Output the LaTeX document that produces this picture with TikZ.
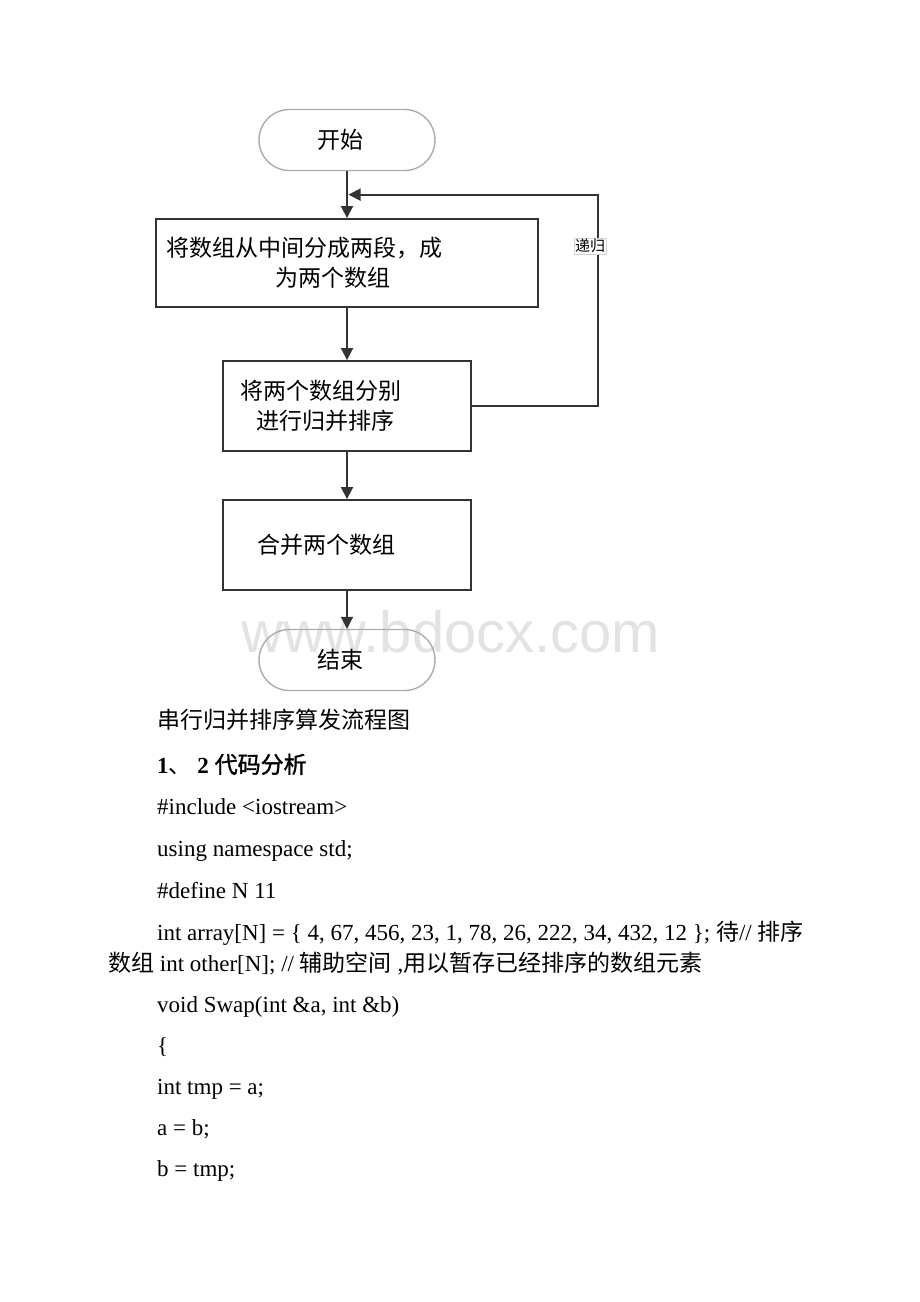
\documentclass[tikz,border=0pt]{standalone}
\usepackage{fontspec}
\setmainfont{Liberation Serif}
\newfontfamily\cjkfont{Noto Sans CJK SC}
\newfontfamily\cjkbold{Noto Sans CJK SC}[FakeBold=1.5]
\newfontfamily\markfont{Liberation Sans}
\newcommand{\zh}[1]{{\cjkfont #1}}
\usepackage{tikz}
\usetikzlibrary{arrows.meta, positioning, shapes.misc, calc}

\begin{document}
\begin{tikzpicture}[x=1pt, y=-1pt,
    every node/.style={font=\fontsize{23}{30}\selectfont},
    term/.style={draw=gray!65, line width=1.4pt, rounded rectangle, minimum width=176pt, minimum height=61pt, inner sep=0pt, font=\fontsize{23}{30}\selectfont\cjkfont},
    proc/.style={draw=black!80, line width=1.9pt, align=left, inner ysep=0pt, font=\fontsize{23}{30}\selectfont\cjkfont},
    flow/.style={-{Triangle[length=12pt, width=12pt]}, draw=black!80, line width=1.9pt},
    textline/.style={anchor=base west, inner sep=0pt}
]
\useasboundingbox (0,0) rectangle (920,1302);

% watermark
\node[textline, font=\fontsize{58}{58}\selectfont\markfont, text=gray!22] (mark) at (241,652) {www.bdocx.com};

% flowchart
\node[term] (start) at (347,140) {\hspace*{-14pt}开始};
\node[proc, minimum width=382pt, minimum height=88pt, text width=362pt, inner xsep=10pt] (split) at (347,263)
    {将数组从中间分成两段，成\\\hspace*{109pt}为两个数组};
\node[proc, minimum width=248pt, minimum height=90pt, text width=214pt, inner xsep=17pt] (sort) at (347,406)
    {将两个数组分别\\\hspace*{16pt}进行归并排序};
\node[proc, minimum width=248pt, minimum height=90pt, text width=214pt, inner xsep=17pt] (merge) at (347,545)
    {\hspace*{17pt}合并两个数组};
\node[term] (stop) at (347,660) {\hspace*{-14pt}结束};

\coordinate (join) at ($(start.south)!0.5!(split.north)$);

% connectors
\draw[flow] (start.south) -- (split.north);
\draw[flow] (split.south) -- (sort.north);
\draw[flow] (sort.south) -- (merge.north);
\draw[flow] (merge.south) -- (stop.north);
\draw[flow] (sort.east) -- ++(126,0) |- ([xshift=1.5pt]join);
\node[draw=gray!35, fill=white, inner sep=1pt, font=\fontsize{15}{15}\selectfont\cjkfont] (rec) at (590,246) {递归};

% caption and code lines
\node[textline] (cap) at (157,728) {\zh{串行归并排序算发流程图}};
\node[textline] (sec) at (157,773) {\textbf{1}\zh{、} \textbf{2} {\cjkbold 代码分析}};
\node[textline] (inc) at (157,814) {\#include <iostream>};
\node[textline] (ns) at (157,856) {using namespace std;};
\node[textline] (def) at (157,898) {\#define N 11};
\node[textline] (arr) at (157,940) {int array[N] = \{ 4, 67, 456, 23, 1, 78, 26, 222, 34, 432, 12 \}; \zh{待}// \zh{排序}};
\node[textline] (oth) at (108,971) {\zh{数组} int other[N]; // \zh{辅助空间} ,\zh{用以暂存已经排序的数组元素}};
\node[textline] (swap) at (157,1012) {void Swap(int \&a, int \&b)};
\node[textline] (lb) at (157,1053) {\{};
\node[textline] (tmp) at (157,1094) {int tmp = a;};
\node[textline] (ab) at (157,1135) {a = b;};
\node[textline] (bt) at (157,1176) {b = tmp;};
\end{tikzpicture}
\end{document}
